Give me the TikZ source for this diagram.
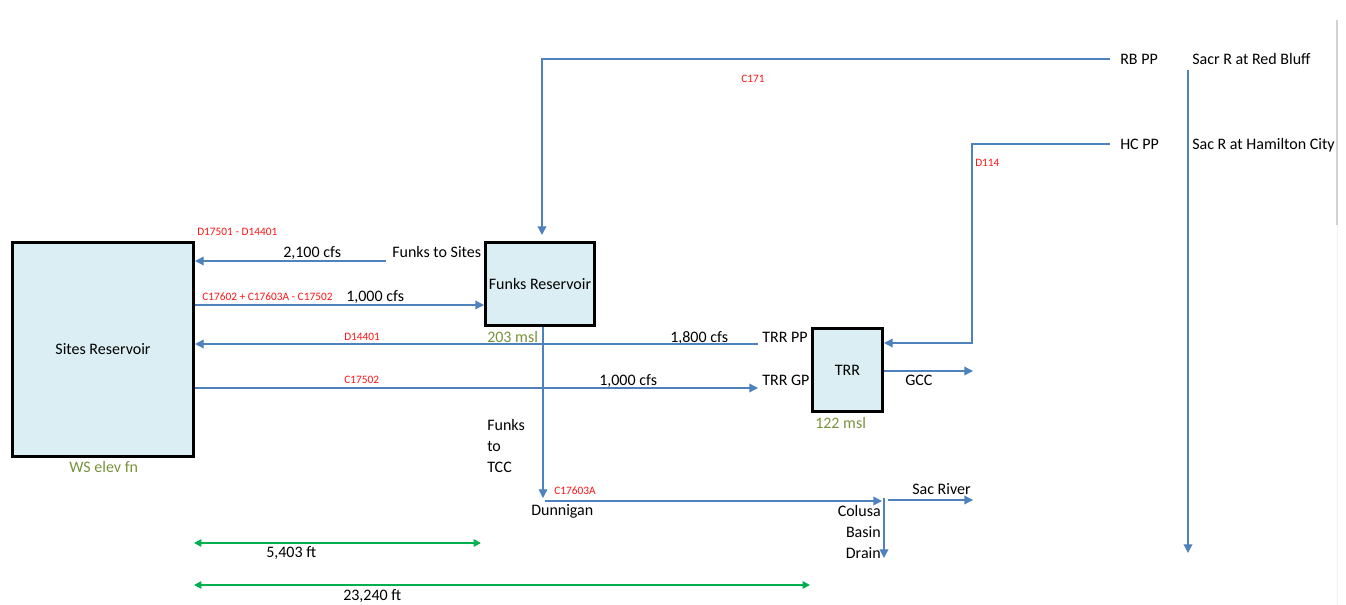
\documentclass[tikz,border=0pt]{standalone}
\usepackage{fontspec}
\setmainfont{Carlito}
\usepackage{xcolor}
\definecolor{flowblue}{RGB}{79,129,189}
\definecolor{resfill}{RGB}{219,238,244}
\definecolor{elevgreen}{RGB}{119,147,60}
\definecolor{codered}{RGB}{255,20,20}
\definecolor{dimgreen}{RGB}{0,176,80}
\usepackage{tikz}
\usetikzlibrary{arrows.meta,positioning}
\tikzset{
  resbox/.style={draw=black, line width=2.25pt, fill=resfill, inner sep=0pt,
                 font=\fontsize{12}{14}\selectfont},
  lbl/.style={font=\fontsize{12}{15.75}\selectfont, inner sep=0pt, anchor=base west},
  code/.style={font=\fontsize{8.5}{10}\selectfont, text=codered, inner sep=0pt, anchor=base west},
  elev/.style={lbl, text=elevgreen},
  flowline/.style={draw=flowblue, line width=1pt, -{Triangle[length=6.5pt,width=6.5pt]}},
  dimline/.style={draw=dimgreen, line width=1.2pt,
                  {Triangle[length=5.5pt,width=5.5pt]}-{Triangle[length=5.5pt,width=5.5pt]}},
}

\begin{document}
\begin{tikzpicture}[x=0.75pt,y=-0.75pt]
  \useasboundingbox (0,0) rectangle (1346,605);
  %% Reservoirs
  \node[resbox, minimum width=135.75pt, minimum height=160.5pt] (sites) at (103,349.5) {Sites Reservoir};
  \node[resbox, minimum width=81.75pt, minimum height=62.25pt] (funks) at (540,284) {Funks Reservoir};
  \node[resbox, minimum width=52.5pt, minimum height=62.25pt] (trr) at (847.5,370) {TRR};
  \node[elev] (wselev) at (69,473) {WS elev fn};
  \node[elev] (funkselev) at (487,343) {203 msl};
  \node[elev] (trrelev) at (815,429) {122 msl};
  %% Funks -> Sites
  \node[lbl] (fts) at (392,258) {Funks to Sites};
  \node[lbl] (q2100) at (283,258) {2,100 cfs};
  \node[code] (d17501) at (197,236) {D17501 - D14401};
  \coordinate (ftsout) at (386,261);
  \draw[flowline] (ftsout) -- (sites.east |- ftsout);
  %% Sites -> Funks
  \node[code] (c17602) at (202,301) {C17602 + C17603A - C17502};
  \node[lbl] (q1000a) at (346,302) {1,000 cfs};
  \coordinate (sfrow) at (0,305);
  \draw[flowline] (sites.east |- sfrow) -- (funks.west |- sfrow);
  %% TRR PP -> Sites
  \node[lbl] (trrpp) at (762,343) {TRR PP};
  \node[lbl] (q1800) at (670,343) {1,800 cfs};
  \node[code] (d14401) at (344,341) {D14401};
  \coordinate (trrppout) at (758,344);
  \draw[flowline] (trrppout) -- (sites.east |- trrppout);
  %% Sites -> TRR GP
  \node[lbl] (trrgp) at (762,386) {TRR GP};
  \node[lbl] (q1000b) at (599,386) {1,000 cfs};
  \node[code] (c17502) at (344,384) {C17502};
  \coordinate (trrgpin) at (758,388);
  \draw[flowline] (sites.east |- trrgpin) -- (trrgpin);
  %% Red Bluff -> Funks
  \node[lbl] (rbpp) at (1120,65) {RB PP};
  \node[code] (c171) at (741,83) {C171};
  \coordinate (rbppout) at (1110,59);
  \coordinate (funksin) at (542,235);
  \draw[flowline] (rbppout) -| (funksin);
  %% Hamilton City -> TRR
  \node[lbl] (hcpp) at (1120,150) {HC PP};
  \node[code] (d114) at (975,167) {D114};
  \coordinate (hcppout) at (1110,144);
  \coordinate (d114turn) at (972,343);
  \draw[flowline] (hcppout) -| (d114turn) -- (trr.east |- d114turn);
  %% Sacramento River
  \node[lbl] (sacrb) at (1192,65) {Sacr R at Red Bluff};
  \node[lbl] (sachc) at (1192,150) {Sac R at Hamilton City};
  \coordinate (sactop) at (1188,70);
  \coordinate (sacend) at (1188,553);
  \draw[flowline] (sactop) -- (sacend);
  %% TRR -> GCC
  \node[lbl] (gcc) at (905,386) {GCC};
  \coordinate (gccout) at (973,371);
  \draw[flowline] (trr.east |- gccout) -- (gccout);
  %% Funks -> TCC -> Dunnigan
  \node[lbl, anchor=north west, align=left] (ftcc) at (487,419) {Funks\\to\\TCC};
  \coordinate (dunnin) at (543,498);
  \draw[flowline] (funks.south -| dunnin) -- (dunnin);
  \node[lbl] (dunn) at (531,516) {Dunnigan};
  \node[code] (c17603a) at (554,495) {C17603A};
  \coordinate (dunnout) at (545,501);
  \coordinate (cbdin) at (882,501);
  \draw[flowline] (dunnout) -- (cbdin);
  %% Colusa Basin Drain / Sac River
  \node[lbl, anchor=north east, align=right] (cbd) at (881,505) {Colusa\\Basin\\Drain};
  \node[lbl] (sacriv) at (912,495) {Sac River};
  \coordinate (cbdtop) at (884,498);
  \coordinate (cbdout) at (884,558);
  \draw[flowline] (cbdtop) -- (cbdout);
  \coordinate (sacrivin) at (888,500);
  \coordinate (sacrivout) at (973,500);
  \draw[flowline] (sacrivin) -- (sacrivout);
  %% Distances
  \coordinate (dimA) at (194,543);
  \coordinate (dimB) at (481,543);
  \draw[dimline] (dimA) -- (dimB);
  \node[lbl] (dist1) at (266,558) {5,403 ft};
  \coordinate (dimC) at (194,585);
  \coordinate (dimD) at (810,585);
  \draw[dimline] (dimC) -- (dimD);
  \node[lbl] (dist2) at (343,600) {23,240 ft};
  %% Page edge
  \draw[gray!35, line width=1pt] (1337,20) -- (1337,225);
  \draw[gray!12] (1337,225) -- (1337,605);
\end{tikzpicture}
\end{document}
